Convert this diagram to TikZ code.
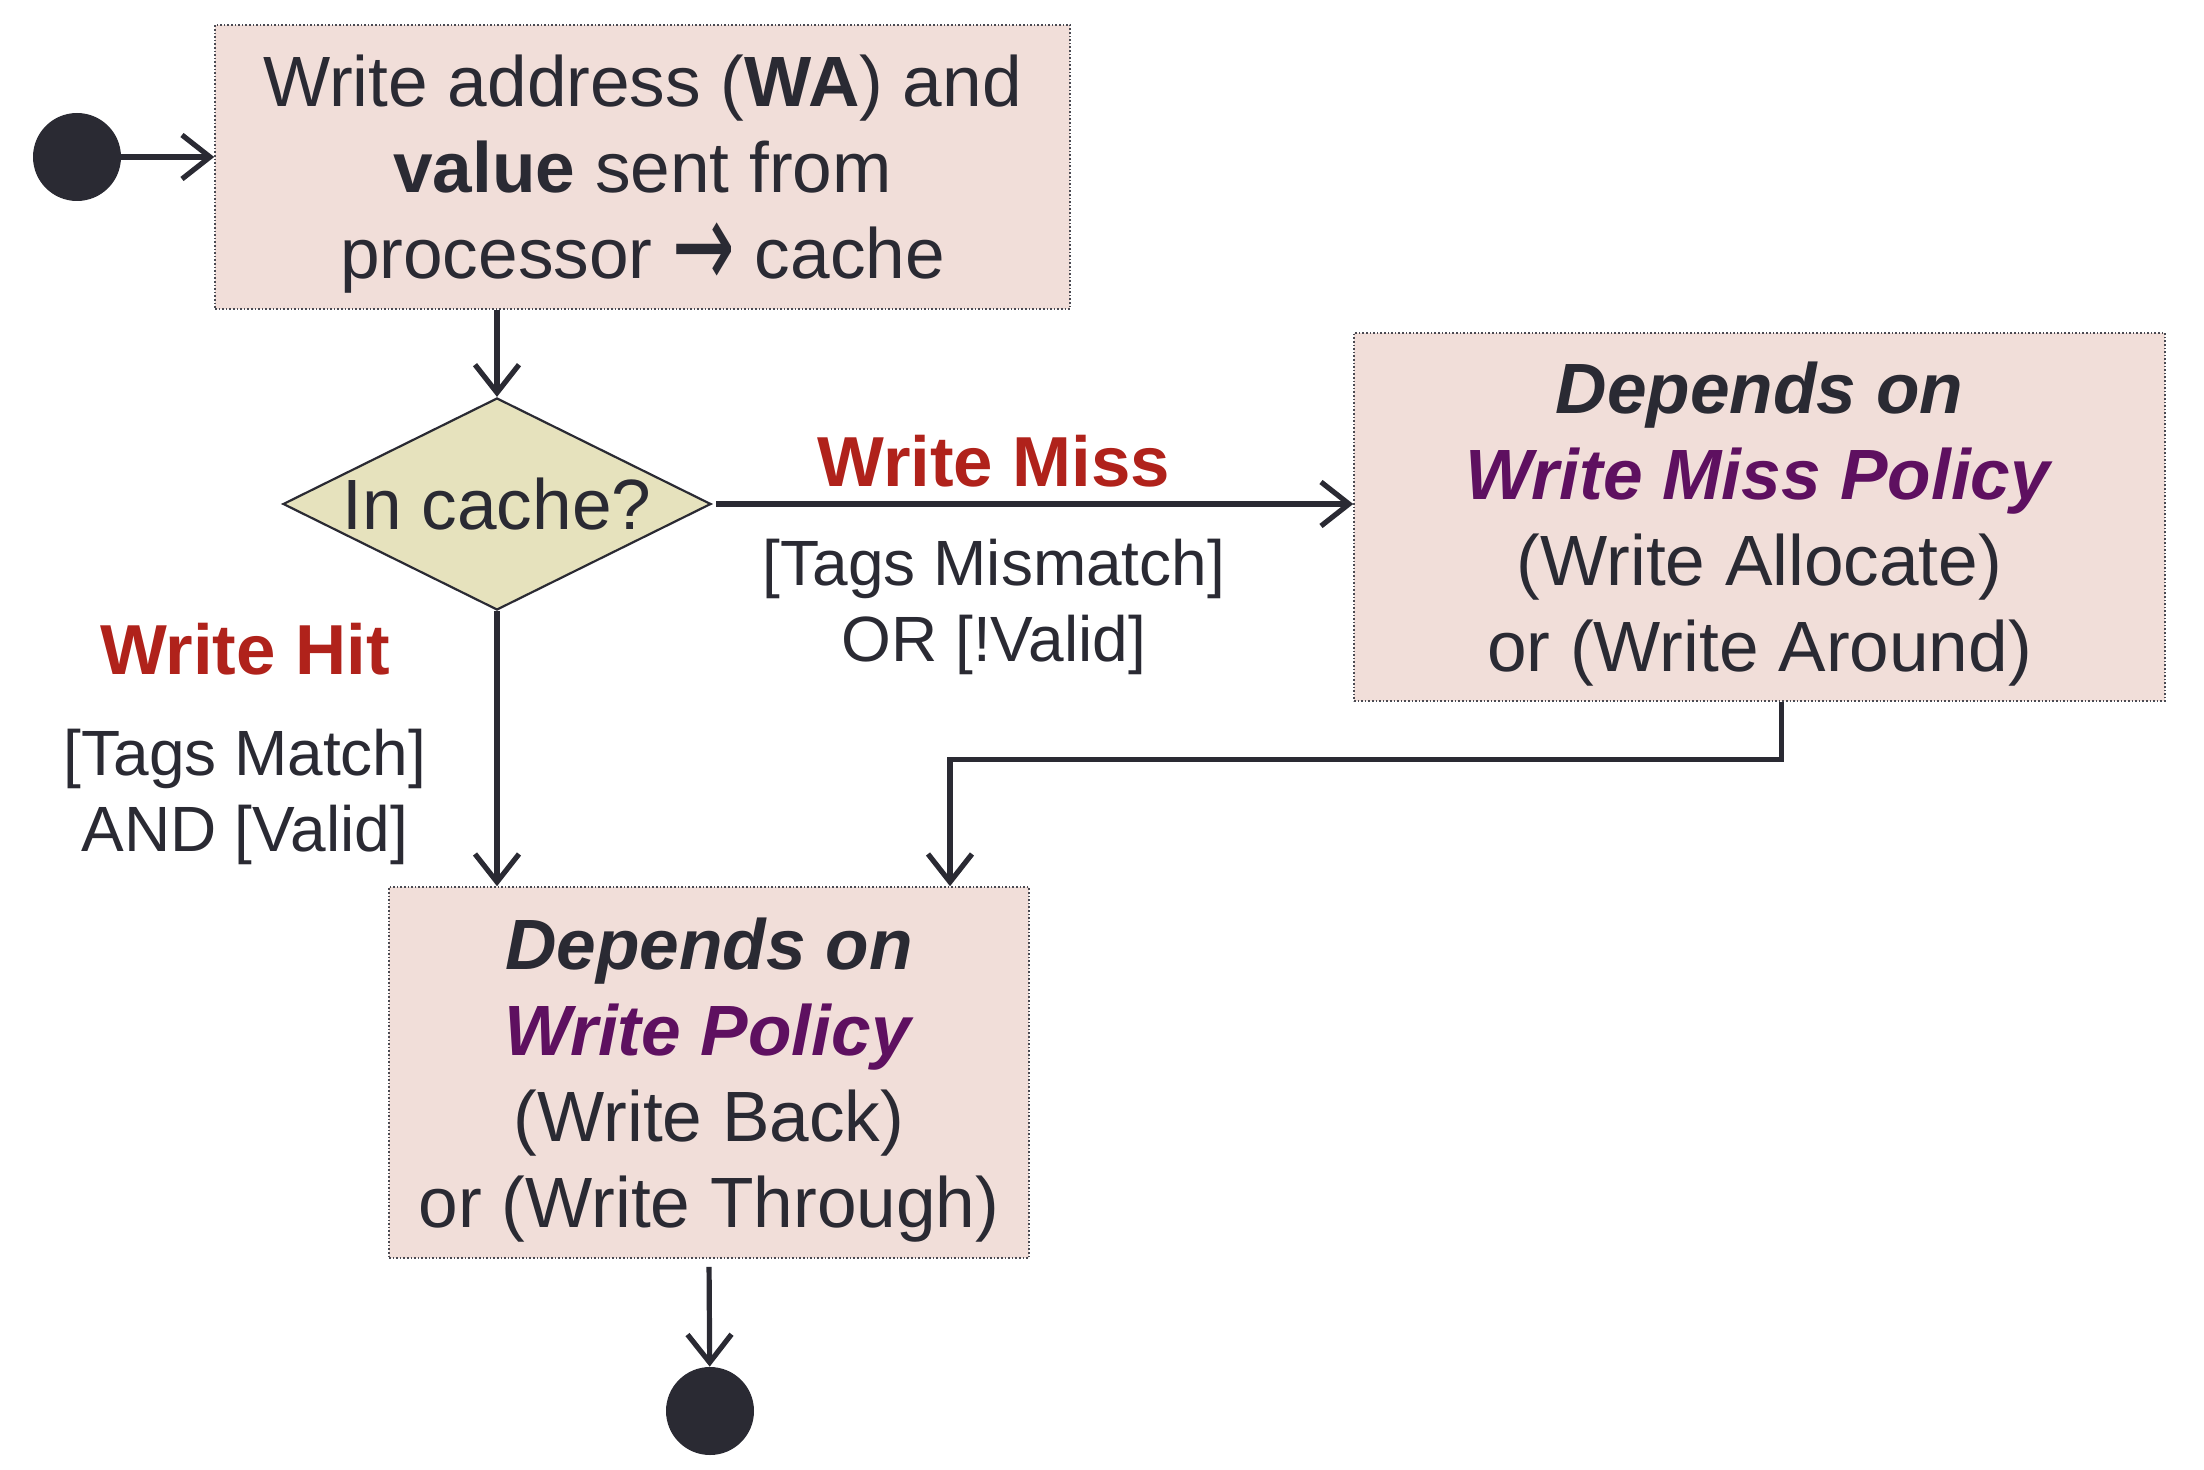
\documentclass[tikz,border=0pt]{standalone}
\usepackage{fontspec}
\setmainfont{Liberation Sans}
\newfontfamily\symfont{DejaVu Sans}
\usepackage{xcolor}
\usepackage{tikz}
\usetikzlibrary{arrows.meta,positioning,shapes}
\definecolor{ink}{HTML}{2A2A33}
\definecolor{boxfill}{HTML}{F1DED9}
\definecolor{decfill}{HTML}{E6E2BD}
\definecolor{missred}{HTML}{B0221B}
\definecolor{polpurple}{HTML}{5E1060}
\newcommand{\topgap}{\rule{0pt}{33pt}}

\begin{document}
\begin{tikzpicture}[
    x=0.5pt, y=-0.5pt,
    bigtxt/.style = {font=\fontsize{35.6}{43}\selectfont, text=ink},
    box/.style = {rectangle, draw=ink!85, densely dotted, line width=0.8pt,
                  fill=boxfill, align=center, inner sep=0pt, bigtxt},
    decision/.style = {diamond, aspect=2, draw=ink, line width=1.1pt,
                  fill=decfill, inner sep=0pt,
                  minimum width=214pt, minimum height=106pt},
    dot/.style = {circle, fill=ink, inner sep=0pt, minimum size=44pt},
    guardhead/.style = {font=\fontsize{35.4}{42}\selectfont\bfseries, text=missred},
    guard/.style = {align=center, font=\fontsize{32}{38}\selectfont, text=ink},
    arrow/.style = {-{Straight Barb[length=14pt,width=22pt]}, line width=2.6pt, ink}
  ]
    \useasboundingbox (0,0) rectangle (2204,1470);
    \node[dot] (start) at (77,157) {};
    \node[box, minimum width=427.5pt, minimum height=142pt] (wa) at (642.5,167)
        {\topgap Write address (\textbf{WA}) and\\ \textbf{value} sent from\\
         processor {\symfont\raisebox{-5pt}{\scalebox{1.05}[1.75]{→}}} cache};
    \node[decision, label={[bigtxt]center:In cache?}] (dec) at (497,504) {};
    \node[box, minimum width=405.5pt, minimum height=184pt] (wmp) at (1759.5,517)
        {\topgap\textbf{\textit{Depends on}}\\ \textcolor{polpurple}{\textbf{\textit{Write Miss Policy}}}\\ (Write Allocate)\\ or (Write Around)};
    \node[box, minimum width=320pt, minimum height=185.5pt] (wp) at (709,1072.5)
        {\topgap\textbf{\textit{Depends on}}\\ \textcolor{polpurple}{\textbf{\textit{Write Policy}}}\\ (Write Back)\\ or (Write Through)};
    \node[dot] (stop) at (710,1411) {};
    \node[guardhead] (missl) at (994,461) {Write Miss};
    \node[guard] (missg) at (994,607) {[Tags Mismatch]\\ OR [!Valid]};
    \node[guardhead] (hitl) at (245,649) {Write Hit};
    \node[guard] (hitg) at (245,797) {[Tags Match]\\ AND [Valid]};
    \draw[arrow] (start) -- (start -| wa.west);
    \draw[arrow] (dec.north |- wa.south) -- (dec.north);
    \draw[arrow, shorten <=2pt] (dec.east) -- (dec.east -| wmp.west);
    \draw[arrow] (dec.south) -- (dec.south |- wp.north);
    \draw[arrow] ([xshift=11pt]wmp.south) -- ++(0,58) -| ([xshift=120.5pt]wp.north);
    \draw[arrow, shorten <=4pt] (wp.south) -- (stop);
  \end{tikzpicture}
\end{document}
